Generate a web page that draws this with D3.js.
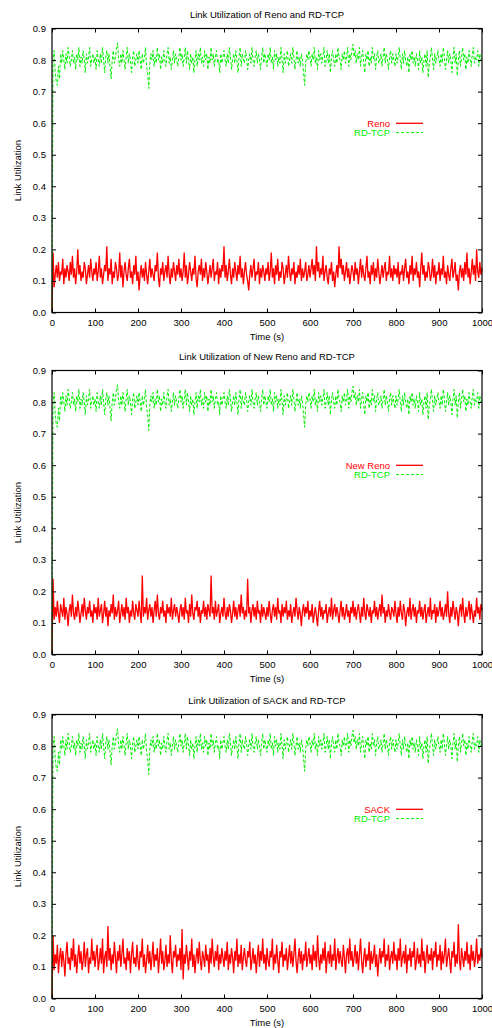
<!DOCTYPE html>
<html>
<head>
<meta charset="utf-8">
<script src="https://cdn.jsdelivr.net/npm/d3@7"></script>
<style>
html,body{margin:0;padding:0;background:#fff;}
svg{display:block;font-family:"Liberation Sans",Arial,Helvetica,sans-serif;}
</style>
</head>
<body>
<svg id="chart" width="492" height="1028"></svg>
<script>
// ---- data ----
const xTicks = [0,100,200,300,400,500,600,700,800,900,1000];
const yTicks = [0,0.1,0.2,0.3,0.4,0.5,0.6,0.7,0.8,0.9];
const titles = ["Link Utilization of Reno and RD-TCP","Link Utilization of New Reno and RD-TCP","Link Utilization of SACK and RD-TCP"];
const tcpNames = ["Reno","New Reno","SACK"];
const rdName = "RD-TCP";
const timeSpan = 1000; // samples are evenly spread over 0..1000 s

const renoUtil = [
0.0,0.19,0.08,0.12,0.15,0.11,0.16,0.10,0.13,0.12,0.17,0.09,0.14,0.11,0.15,0.13,0.10,0.16,0.12,0.18,0.11,0.14,0.09,0.13,0.20,0.12,0.15,0.10,0.13,0.11,0.16,0.14,0.09,0.12,0.15,0.11,0.17,0.13,0.10,0.14,
0.12,0.16,0.10,0.13,0.18,0.11,0.14,0.09,0.12,0.15,0.13,0.21,0.10,0.14,0.12,0.17,0.09,0.13,0.11,0.16,0.14,0.10,0.12,0.19,0.11,0.15,0.08,0.13,0.16,0.12,0.10,0.14,0.17,0.11,0.13,0.09,0.15,0.12,0.18,0.10,
0.13,0.07,0.12,0.15,0.11,0.14,0.10,0.16,0.12,0.09,0.13,0.17,0.11,0.14,0.12,0.10,0.15,0.13,0.19,0.11,0.08,0.14,0.12,0.16,0.10,0.13,0.15,0.11,0.18,0.12,0.09,0.14,0.11,0.16,0.13,0.10,0.15,0.12,0.17,0.11,
0.14,0.10,0.13,0.19,0.11,0.15,0.09,0.12,0.16,0.13,0.10,0.14,0.12,0.18,0.11,0.08,0.13,0.15,0.12,0.17,0.10,0.14,0.11,0.16,0.13,0.09,0.12,0.15,0.11,0.14,0.17,0.10,0.13,0.12,0.16,0.09,0.14,0.11,0.15,0.13,
0.21,0.11,0.15,0.10,0.13,0.17,0.12,0.09,0.14,0.11,0.16,0.13,0.10,0.15,0.12,0.18,0.11,0.14,0.09,0.13,0.16,0.12,0.10,0.07,0.12,0.15,0.11,0.14,0.17,0.10,0.13,0.12,0.16,0.09,0.14,0.11,0.15,0.13,0.10,0.14,
0.12,0.16,0.10,0.13,0.19,0.11,0.14,0.09,0.15,0.12,0.17,0.10,0.13,0.11,0.16,0.14,0.09,0.12,0.15,0.11,0.18,0.13,0.10,0.14,0.12,0.16,0.09,0.13,0.11,0.15,0.12,0.17,0.10,0.14,0.11,0.13,0.16,0.10,0.12,0.15,
0.11,0.14,0.17,0.12,0.15,0.10,0.21,0.13,0.16,0.11,0.14,0.12,0.18,0.10,0.13,0.15,0.11,0.09,0.14,0.12,0.16,0.10,0.13,0.08,0.12,0.15,0.11,0.21,0.14,0.17,0.12,0.15,0.10,0.13,0.16,0.11,0.14,0.09,0.12,0.15,
0.13,0.10,0.16,0.12,0.14,0.09,0.13,0.17,0.11,0.15,0.12,0.10,0.14,0.18,0.11,0.13,0.09,0.15,0.12,0.16,0.10,0.14,0.11,0.17,0.13,0.09,0.12,0.15,0.11,0.14,0.16,0.10,0.13,0.12,0.18,0.11,0.14,0.10,0.15,0.12,
0.14,0.11,0.16,0.09,0.13,0.12,0.15,0.10,0.14,0.17,0.11,0.13,0.09,0.15,0.12,0.18,0.10,0.14,0.12,0.16,0.11,0.13,0.08,0.14,0.19,0.12,0.15,0.10,0.13,0.11,0.16,0.14,0.10,0.12,0.17,0.11,0.15,0.09,0.13,0.12,
0.16,0.10,0.14,0.12,0.18,0.11,0.13,0.09,0.15,0.12,0.10,0.14,0.17,0.11,0.13,0.16,0.10,0.12,0.07,0.13,0.15,0.11,0.14,0.10,0.16,0.12,0.19,0.11,0.14,0.09,0.13,0.17,0.12,0.15,0.10,0.20,0.13,0.11,0.16,0.12,0.14];

const newRenoUtil = [
0.0,0.24,0.11,0.15,0.12,0.17,0.13,0.10,0.16,0.14,0.12,0.18,0.11,0.15,0.13,0.09,0.14,0.16,0.12,0.19,0.13,0.11,0.15,0.12,0.17,0.14,0.10,0.13,0.16,0.12,0.18,0.14,0.11,0.15,0.13,0.17,0.12,0.14,0.10,0.16,
0.13,0.15,0.11,0.18,0.12,0.14,0.16,0.10,0.13,0.17,0.12,0.15,0.09,0.14,0.12,0.16,0.13,0.19,0.11,0.15,0.12,0.14,0.17,0.10,0.13,0.16,0.12,0.15,0.11,0.18,0.13,0.15,0.10,0.14,0.12,0.17,0.13,0.11,0.16,0.14,
0.12,0.17,0.13,0.10,0.25,0.12,0.15,0.13,0.18,0.11,0.14,0.16,0.12,0.15,0.10,0.14,0.17,0.12,0.19,0.13,0.11,0.15,0.13,0.17,0.12,0.14,0.10,0.16,0.13,0.15,0.12,0.18,0.11,0.14,0.16,0.12,0.15,0.13,0.10,0.14,
0.16,0.12,0.15,0.11,0.18,0.13,0.14,0.10,0.16,0.12,0.19,0.13,0.11,0.15,0.14,0.17,0.12,0.15,0.10,0.14,0.13,0.17,0.12,0.15,0.11,0.16,0.14,0.12,0.25,0.13,0.15,0.11,0.17,0.12,0.14,0.16,0.10,0.13,0.15,0.12,
0.18,0.13,0.11,0.15,0.12,0.16,0.14,0.10,0.13,0.17,0.12,0.15,0.11,0.14,0.16,0.12,0.19,0.13,0.15,0.11,0.14,0.12,0.24,0.13,0.15,0.10,0.14,0.16,0.12,0.15,0.11,0.17,0.13,0.14,0.10,0.16,0.12,0.15,0.13,0.11,
0.15,0.12,0.17,0.13,0.10,0.14,0.16,0.12,0.15,0.11,0.18,0.13,0.14,0.10,0.16,0.12,0.15,0.13,0.17,0.11,0.14,0.12,0.16,0.10,0.13,0.15,0.12,0.18,0.14,0.11,0.15,0.13,0.09,0.14,0.16,0.12,0.15,0.13,0.17,0.11,
0.14,0.12,0.16,0.10,0.13,0.15,0.12,0.09,0.14,0.17,0.12,0.15,0.11,0.14,0.13,0.16,0.10,0.13,0.15,0.12,0.18,0.11,0.14,0.16,0.12,0.15,0.13,0.10,0.14,0.17,0.12,0.15,0.11,0.13,0.16,0.12,0.14,0.10,0.15,0.13,
0.17,0.12,0.15,0.11,0.14,0.16,0.13,0.10,0.15,0.12,0.18,0.13,0.11,0.16,0.14,0.12,0.15,0.10,0.14,0.13,0.17,0.12,0.15,0.11,0.14,0.16,0.12,0.19,0.13,0.15,0.10,0.14,0.12,0.16,0.13,0.11,0.15,0.14,0.12,0.17,
0.13,0.10,0.15,0.12,0.17,0.13,0.11,0.16,0.14,0.09,0.13,0.15,0.12,0.18,0.11,0.14,0.16,0.12,0.15,0.10,0.14,0.13,0.17,0.12,0.15,0.11,0.14,0.16,0.10,0.13,0.15,0.12,0.18,0.11,0.14,0.13,0.16,0.10,0.15,0.12,
0.14,0.17,0.12,0.15,0.11,0.13,0.16,0.12,0.20,0.13,0.10,0.15,0.12,0.17,0.14,0.11,0.15,0.13,0.09,0.14,0.16,0.12,0.18,0.13,0.10,0.15,0.12,0.14,0.17,0.11,0.16,0.13,0.10,0.14,0.12,0.18,0.13,0.15,0.11,0.16,0.14];

const sackUtil = [
0.0,0.20,0.09,0.14,0.11,0.17,0.08,0.13,0.16,0.10,0.15,0.12,0.07,0.14,0.18,0.11,0.13,0.09,0.16,0.12,0.19,0.10,0.14,0.08,0.13,0.17,0.11,0.15,0.09,0.12,0.18,0.10,0.14,0.16,0.08,0.13,0.11,0.19,0.12,0.15,
0.10,0.14,0.17,0.09,0.12,0.16,0.11,0.19,0.08,0.13,0.15,0.10,0.23,0.12,0.16,0.09,0.14,0.11,0.18,0.13,0.08,0.15,0.12,0.17,0.10,0.14,0.19,0.11,0.13,0.09,0.16,0.12,0.15,0.08,0.14,0.18,0.11,0.13,0.10,0.17,
0.12,0.09,0.15,0.13,0.19,0.10,0.14,0.08,0.12,0.17,0.11,0.15,0.09,0.13,0.18,0.10,0.14,0.12,0.16,0.08,0.13,0.19,0.11,0.15,0.09,0.12,0.17,0.10,0.14,0.11,0.20,0.12,0.08,0.15,0.13,0.17,0.10,0.14,0.12,0.16,
0.09,0.22,0.06,0.14,0.11,0.17,0.13,0.09,0.15,0.12,0.19,0.10,0.14,0.08,0.13,0.16,0.11,0.18,0.12,0.09,0.15,0.13,0.10,0.17,0.12,0.14,0.08,0.16,0.11,0.19,0.13,0.10,0.15,0.12,0.17,0.09,0.14,0.11,0.16,0.13,
0.10,0.15,0.12,0.18,0.09,0.14,0.11,0.16,0.13,0.08,0.15,0.12,0.19,0.10,0.14,0.11,0.17,0.09,0.13,0.16,0.12,0.10,0.15,0.13,0.18,0.09,0.12,0.16,0.11,0.14,0.08,0.13,0.17,0.10,0.15,0.12,0.19,0.11,0.14,0.09,
0.16,0.12,0.10,0.15,0.13,0.19,0.09,0.14,0.11,0.17,0.12,0.08,0.15,0.13,0.18,0.10,0.14,0.12,0.16,0.09,0.13,0.17,0.11,0.15,0.10,0.14,0.19,0.12,0.08,0.13,0.16,0.11,0.15,0.09,0.14,0.12,0.18,0.10,0.13,0.16,
0.11,0.14,0.09,0.17,0.12,0.15,0.10,0.20,0.13,0.09,0.14,0.11,0.16,0.12,0.18,0.08,0.13,0.15,0.11,0.17,0.10,0.14,0.12,0.19,0.09,0.13,0.16,0.11,0.15,0.12,0.10,0.17,0.13,0.08,0.14,0.16,0.11,0.19,0.12,0.15,
0.10,0.13,0.17,0.11,0.15,0.09,0.14,0.19,0.12,0.08,0.13,0.16,0.10,0.14,0.12,0.18,0.09,0.15,0.11,0.13,0.17,0.10,0.14,0.07,0.12,0.16,0.11,0.15,0.13,0.19,0.10,0.14,0.12,0.17,0.09,0.13,0.15,0.11,0.18,0.12,
0.14,0.09,0.16,0.12,0.19,0.10,0.13,0.15,0.11,0.17,0.08,0.14,0.12,0.16,0.10,0.15,0.13,0.18,0.09,0.12,0.16,0.11,0.14,0.10,0.19,0.12,0.15,0.08,0.13,0.17,0.11,0.14,0.12,0.16,0.09,0.15,0.13,0.18,0.10,0.14,
0.12,0.17,0.09,0.15,0.11,0.14,0.19,0.10,0.13,0.16,0.12,0.08,0.15,0.13,0.18,0.10,0.14,0.11,0.235,0.12,0.09,0.16,0.13,0.10,0.15,0.12,0.18,0.11,0.14,0.09,0.17,0.12,0.15,0.10,0.13,0.19,0.11,0.14,0.12,0.16,0.13];

// RD-TCP trace looks the same in all three runs
const rdtcpUtil = [
0.0,0.80,0.83,0.76,0.73,0.72,0.78,0.74,0.82,0.79,0.83,0.80,0.77,0.82,0.79,0.84,0.81,0.78,0.80,0.83,0.79,0.81,0.77,0.82,0.80,0.84,0.78,0.81,0.79,0.83,0.80,0.76,0.82,0.79,0.81,0.84,0.78,0.80,0.82,0.79,
0.81,0.77,0.83,0.80,0.78,0.82,0.79,0.84,0.80,0.76,0.81,0.83,0.79,0.82,0.78,0.74,0.80,0.83,0.79,0.81,0.84,0.855,0.80,0.78,0.82,0.79,0.83,0.80,0.77,0.81,0.84,0.79,0.82,0.80,0.76,0.81,0.83,0.78,0.80,0.82,
0.79,0.83,0.80,0.77,0.82,0.79,0.81,0.84,0.78,0.76,0.71,0.79,0.82,0.80,0.83,0.78,0.81,0.79,0.84,0.80,0.82,0.77,0.81,0.79,0.83,0.80,0.78,0.82,0.84,0.79,0.81,0.77,0.80,0.83,0.79,0.82,0.80,0.78,0.81,0.84,
0.80,0.82,0.78,0.81,0.84,0.79,0.83,0.80,0.77,0.82,0.79,0.81,0.76,0.80,0.83,0.78,0.82,0.80,0.84,0.79,0.81,0.78,0.83,0.80,0.82,0.77,0.81,0.79,0.84,0.80,0.82,0.78,0.81,0.83,0.79,0.80,0.76,0.82,0.79,0.81,
0.83,0.80,0.78,0.82,0.79,0.84,0.81,0.77,0.80,0.82,0.79,0.83,0.80,0.76,0.81,0.84,0.78,0.82,0.80,0.79,0.83,0.81,0.77,0.80,0.82,0.79,0.84,0.80,0.78,0.81,0.83,0.79,0.82,0.80,0.77,0.81,0.84,0.79,0.82,0.80,
0.78,0.82,0.80,0.84,0.79,0.81,0.77,0.83,0.80,0.82,0.78,0.81,0.79,0.84,0.80,0.76,0.82,0.79,0.81,0.83,0.78,0.80,0.82,0.79,0.84,0.81,0.77,0.80,0.83,0.79,0.81,0.78,0.82,0.80,0.76,0.72,0.79,0.82,0.80,0.83,
0.81,0.78,0.82,0.80,0.84,0.79,0.81,0.77,0.83,0.80,0.82,0.79,0.81,0.84,0.78,0.80,0.83,0.79,0.82,0.76,0.81,0.83,0.80,0.78,0.82,0.79,0.84,0.81,0.80,0.77,0.82,0.80,0.83,0.79,0.81,0.84,0.78,0.82,0.80,0.83,
0.85,0.81,0.83,0.79,0.82,0.80,0.84,0.78,0.81,0.83,0.79,0.76,0.82,0.80,0.83,0.78,0.81,0.79,0.84,0.80,0.82,0.77,0.81,0.83,0.79,0.80,0.82,0.78,0.81,0.84,0.79,0.82,0.80,0.77,0.81,0.83,0.79,0.82,0.80,0.78,
0.82,0.79,0.81,0.84,0.80,0.77,0.82,0.79,0.83,0.80,0.78,0.81,0.76,0.82,0.80,0.83,0.79,0.81,0.78,0.82,0.80,0.77,0.83,0.79,0.81,0.76,0.80,0.82,0.78,0.83,0.745,0.79,0.81,0.84,0.80,0.77,0.82,0.79,0.81,0.83,
0.80,0.78,0.82,0.79,0.84,0.81,0.77,0.80,0.83,0.79,0.82,0.80,0.76,0.81,0.84,0.79,0.82,0.75,0.80,0.83,0.78,0.81,0.84,0.80,0.82,0.77,0.81,0.79,0.83,0.80,0.78,0.82,0.84,0.79,0.81,0.80,0.83,0.78,0.82,0.80,0.81];

const panelTcp = [renoUtil, newRenoUtil, sackUtil];
const panelRd = [rdtcpUtil, rdtcpUtil, rdtcpUtil];

// ---- layout ----
const svg = d3.select("#chart");
const left = 52, right = 482;
const plotTop = 28.5, plotH = 284;
const panelOffsets = [0, 342, 686];
const RED = "#ff0000", GREEN = "#00f000";
const FS = "9.5px";

const x = d3.scaleLinear().domain([0, 1000]).range([left, right]);

panelOffsets.forEach((off, i) => {
  const top = plotTop + off, bottom = top + plotH;
  const y = d3.scaleLinear().domain([0, 0.9]).range([bottom, top]);
  const g = svg.append("g");

  g.append("text").attr("x", (left + right) / 2).attr("y", top - 11)
    .attr("text-anchor", "middle").attr("font-size", FS).attr("fill", "#000")
    .text(titles[i]);

  const mkLine = arr => d3.line()
    .x((d, k) => x(k * timeSpan / (arr.length - 1)))
    .y(d => y(d))(arr);
  g.append("path").attr("d", mkLine(panelTcp[i]))
    .attr("fill", "none").attr("stroke", RED).attr("stroke-width", 1.3);
  g.append("path").attr("d", mkLine(panelRd[i]))
    .attr("fill", "none").attr("stroke", GREEN).attr("stroke-width", 1)
    .attr("stroke-dasharray", "3,2");

  const axL = g.append("g").attr("transform", `translate(${left},0)`)
    .call(d3.axisLeft(y).tickValues(yTicks).tickFormat(d3.format(".1f")).tickSize(-4).tickPadding(6));
  const axB = g.append("g").attr("transform", `translate(0,${bottom})`)
    .call(d3.axisBottom(x).tickValues(xTicks).tickFormat(d3.format("d")).tickSize(-4).tickPadding(7));
  const axR = g.append("g").attr("transform", `translate(${right},0)`)
    .call(d3.axisRight(y).tickValues(yTicks).tickFormat("").tickSize(-4));
  const axT = g.append("g").attr("transform", `translate(0,${top})`)
    .call(d3.axisTop(x).tickValues(xTicks).tickFormat("").tickSize(-4));
  [axL, axB, axR, axT].forEach(a => {
    a.select(".domain").remove();
    a.selectAll("text").attr("font-size", FS).attr("fill", "#000")
      .attr("font-family", '"Liberation Sans",Arial,Helvetica,sans-serif');
    a.selectAll("line").attr("stroke", "#000");
  });

  g.append("rect").attr("x", left).attr("y", top).attr("width", right - left).attr("height", plotH)
    .attr("fill", "none").attr("stroke", "#000").attr("stroke-width", 1.2);

  g.append("text").attr("x", (left + right) / 2).attr("y", bottom + 27)
    .attr("text-anchor", "middle").attr("font-size", FS).text("Time (s)");
  g.append("text").attr("transform", `translate(21,${(top + bottom) / 2}) rotate(-90)`)
    .attr("text-anchor", "middle").attr("font-size", FS).text("Link Utilization");

  const ly1 = top + 94.8, ly2 = ly1 + 9.3;
  g.append("text").attr("x", 390).attr("y", ly1).attr("dy", "0.35em")
    .attr("text-anchor", "end").attr("font-size", FS).attr("fill", RED).text(tcpNames[i]);
  g.append("line").attr("x1", 396).attr("x2", 423).attr("y1", ly1).attr("y2", ly1)
    .attr("stroke", RED).attr("stroke-width", 1.3);
  g.append("text").attr("x", 390).attr("y", ly2).attr("dy", "0.35em")
    .attr("text-anchor", "end").attr("font-size", FS).attr("fill", GREEN).text(rdName);
  g.append("line").attr("x1", 396).attr("x2", 423).attr("y1", ly2).attr("y2", ly2)
    .attr("stroke", GREEN).attr("stroke-width", 1).attr("stroke-dasharray", "3,2");
});
</script>
</body>
</html>
